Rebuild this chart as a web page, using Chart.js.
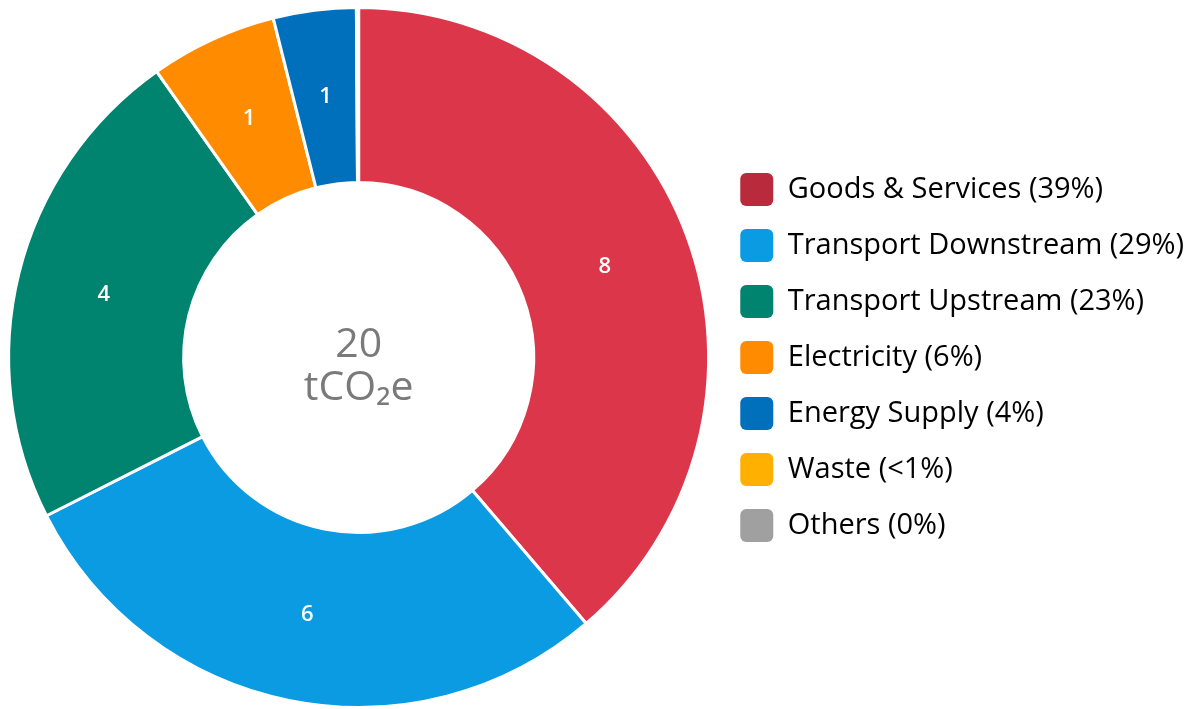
<!DOCTYPE html>
<html>
<head>
<meta charset="utf-8">
<script src="https://cdn.jsdelivr.net/npm/chart.js@4.4.1/dist/chart.umd.min.js"></script>
<style>
  html, body { margin: 0; padding: 0; background: #fff; }
  #wrap { width: 1194px; height: 709px; }
</style>
</head>
<body>
<div id="wrap"><canvas id="chart"></canvas></div>
<script>
const categories = ['Goods & Services', 'Transport Downstream', 'Transport Upstream', 'Electricity', 'Energy Supply', 'Waste', 'Others'];
const emissions = [7.6, 5.65, 4.45, 1.15, 0.75, 0.02, 0];
const sliceColors = ['#dc364a', '#0a9be3', '#00836f', '#ff8c00', '#0070bd', '#ffb000', '#a0a0a0'];
const legendColors = ['#b82a3c', '#0a9be3', '#00836f', '#ff8c00', '#0070bd', '#ffb000', '#a0a0a0'];
const unitLabel = 'tCO₂e';

const total = emissions.reduce((a, b) => a + b, 0);

function pctText(v) {
    const p = v / total * 100;
    if (v > 0 && p < 1) return '<1%';
    return Math.round(p) + '%';
}

// rounded values written in the middle of each visible slice
const sliceLabels = {
    id: 'sliceLabels',
    afterDatasetsDraw(chart) {
        const ctx = chart.ctx;
        const meta = chart.getDatasetMeta(0);
        ctx.save();
        ctx.fillStyle = '#ffffff';
        ctx.font = '600 22px "Open Sans", sans-serif';
        ctx.textAlign = 'center';
        ctx.textBaseline = 'middle';
        meta.data.forEach((arc, i) => {
            const v = emissions[i];
            if (v / total < 0.02) return;
            const pos = arc.tooltipPosition();
            ctx.fillText(Math.round(v), pos.x, pos.y);
        });
        ctx.restore();
    }
};

// total in the hole
const centerText = {
    id: 'centerText',
    afterDraw(chart) {
        const ctx = chart.ctx;
        const arc = chart.getDatasetMeta(0).data[0];
        ctx.save();
        ctx.fillStyle = '#7a7a7a';
        ctx.textAlign = 'center';
        ctx.textBaseline = 'middle';
        ctx.font = '41px "Open Sans", sans-serif';
        ctx.fillText(Math.round(total), arc.x, arc.y - 12);
        ctx.fillText(unitLabel, arc.x, arc.y + 31);
        ctx.restore();
    }
};

const ctx = document.getElementById('chart').getContext('2d');
const chart = new Chart(ctx, {
    type: 'doughnut',
    data: {
        labels: categories,
        datasets: [{
            data: emissions,
            backgroundColor: sliceColors,
            borderColor: '#ffffff',
            borderWidth: 3
        }]
    },
    options: {
        responsive: true,
        maintainAspectRatio: false,
        animation: false,
        cutout: '50%',
        layout: { padding: { top: 6, bottom: 0, left: 0, right: 0 } },
        plugins: {
            tooltip: { enabled: false },
            legend: {
                position: 'right',
                labels: {
                    color: '#6e6e6e',
                    font: { family: '"Open Sans", sans-serif', size: 29 },
                    boxWidth: 33,
                    boxHeight: 33,
                    useBorderRadius: true,
                    borderRadius: 6,
                    padding: 23,
                    generateLabels(chart) {
                        return categories.map((c, i) => ({
                            text: c + ' (' + pctText(emissions[i]) + ')',
                            fillStyle: legendColors[i],
                            strokeStyle: legendColors[i],
                            lineWidth: 0,
                            hidden: false,
                            index: i,
                            borderRadius: 6
                        }));
                    }
                }
            }
        }
    },
    plugins: [sliceLabels, centerText]
});
</script>
</body>
</html>
